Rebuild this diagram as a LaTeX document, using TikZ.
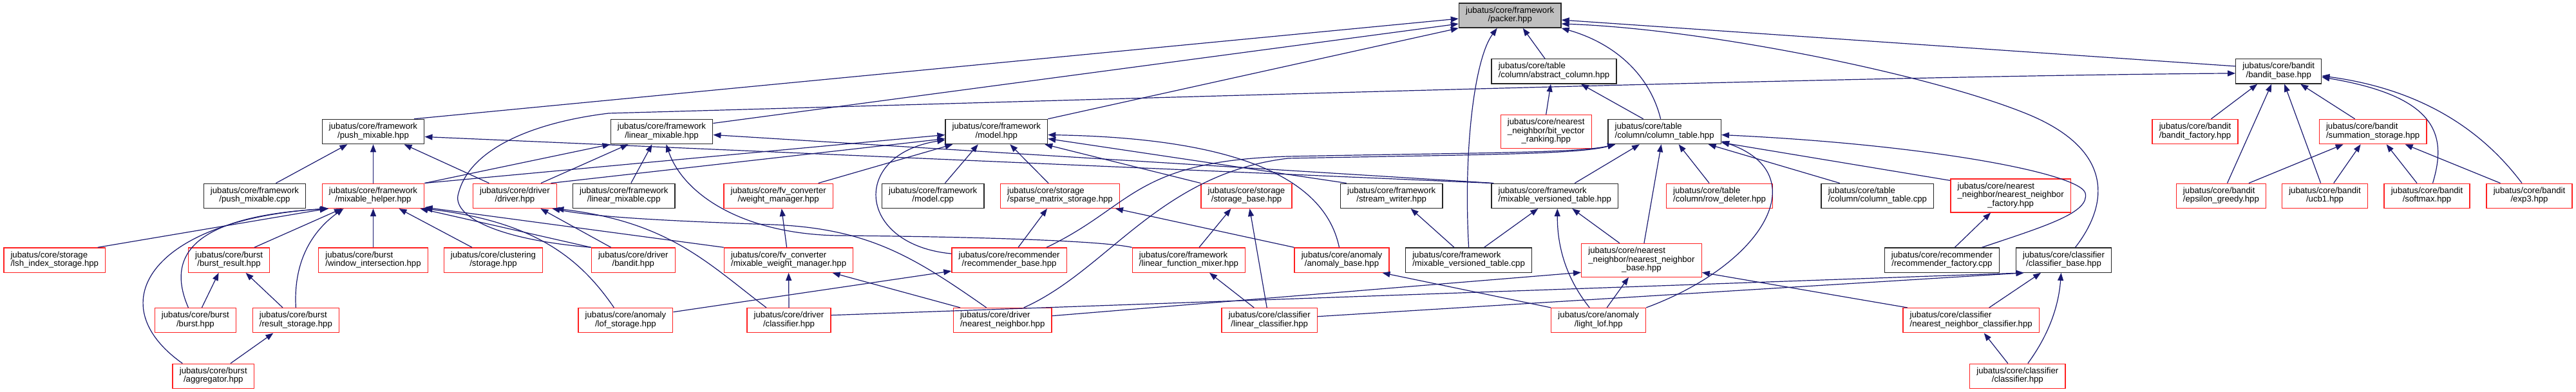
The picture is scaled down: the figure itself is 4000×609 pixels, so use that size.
\documentclass[tikz,border=0pt]{standalone}
\usepackage{fontspec}
\setmainfont{Liberation Sans}
\usetikzlibrary{arrows.meta, positioning, calc}

\definecolor{edgeblue}{HTML}{191970}
\definecolor{boxgray}{HTML}{BFBFBF}
\definecolor{boxred}{HTML}{FF2020}

% first line(s) flush left, last line centred
\newcommand{\twoline}[2]{\begin{tabular}{@{}c@{}}\multicolumn{1}{@{}l@{}}{#1}\\#2\end{tabular}}
\newcommand{\threeline}[3]{\begin{tabular}{@{}c@{}}\multicolumn{1}{@{}l@{}}{#1}\\\multicolumn{1}{@{}l@{}}{#2}\\#3\end{tabular}}

\begin{document}
\begin{tikzpicture}[
			x=1pt, y=-1pt,
			>={Triangle[length=12pt,width=9pt]},
			filebox/.style = {draw=black!85, rectangle, line width=1.3pt, fill=white, inner xsep=10.7pt, inner ysep=5.6pt, font=\fontsize{13.2}{13.2}\selectfont},
			redbox/.style  = {filebox, draw=boxred},
			rootbox/.style = {filebox, fill=boxgray},
			dep/.style     = {->, draw=edgeblue, line width=1.2pt}
			]
			
			\useasboundingbox (0,0) rectangle (4000,609);
			
			%% ── Row 1-2 ───────────────────────────────────────────────────
			\node [rootbox] (packer)     at (2344.7,24.0)  {\twoline{jubatus/core/framework}{/packer.hpp}};
			\node [filebox] (abscol)     at (2413.0,110.9) {\twoline{jubatus/core/table}{/column/abstract\_column.hpp}};
			\node [filebox] (banditbase) at (3538.2,110.9) {\twoline{jubatus/core/bandit}{/bandit\_base.hpp}};
			
			%% ── Row 3 ─────────────────────────────────────────────────────
			\node [filebox] (pushh)     at (579.5,204.5)  {\twoline{jubatus/core/framework}{/push\_mixable.hpp}};
			\node [filebox] (linh)      at (1027.5,204.5) {\twoline{jubatus/core/framework}{/linear\_mixable.hpp}};
			\node [filebox] (modelh)    at (1547.3,204.5) {\twoline{jubatus/core/framework}{/model.hpp}};
			\node [redbox]  (bitvec)    at (2400.7,204.3) {\threeline{jubatus/core/nearest}{\_neighbor/bit\_vector}{\_ranking.hpp}};
			\node [filebox] (coltab)    at (2584.6,204.5) {\twoline{jubatus/core/table}{/column/column\_table.hpp}};
			\node [redbox]  (banditfac) at (3408.5,204.5) {\twoline{jubatus/core/bandit}{/bandit\_factory.hpp}};
			\node [redbox]  (summstore) at (3684.6,204.5) {\twoline{jubatus/core/bandit}{/summation\_storage.hpp}};
			
			%% ── Row 4 ─────────────────────────────────────────────────────
			\node [filebox] (pushcpp)   at (395.5,304.3)  {\twoline{jubatus/core/framework}{/push\_mixable.cpp}};
			\node [redbox]  (mixhelper) at (579.5,304.3)  {\twoline{jubatus/core/framework}{/mixable\_helper.hpp}};
			\node [redbox]  (driverh)   at (799.4,304.3)  {\twoline{jubatus/core/driver}{/driver.hpp}};
			\node [filebox] (lincpp)    at (968.8,304.3)  {\twoline{jubatus/core/framework}{/linear\_mixable.cpp}};
			\node [redbox]  (weightmgr) at (1208.7,304.3) {\twoline{jubatus/core/fv\_converter}{/weight\_manager.hpp}};
			\node [filebox] (modelcpp)  at (1448.7,304.3) {\twoline{jubatus/core/framework}{/model.cpp}};
			\node [redbox]  (sparsest)  at (1646.0,304.3) {\twoline{jubatus/core/storage}{/sparse\_matrix\_storage.hpp}};
			\node [redbox]  (storebase) at (1935.5,304.3) {\twoline{jubatus/core/storage}{/storage\_base.hpp}};
			\node [filebox] (streamw)   at (2160.7,304.3) {\twoline{jubatus/core/framework}{/stream\_writer.hpp}};
			\node [filebox] (mvtable)   at (2414.3,304.3) {\twoline{jubatus/core/framework}{/mixable\_versioned\_table.hpp}};
			\node [redbox]  (rowdel)    at (2670.1,304.3) {\twoline{jubatus/core/table}{/column/row\_deleter.hpp}};
			\node [filebox] (coltabcpp) at (2915.4,304.3) {\twoline{jubatus/core/table}{/column/column\_table.cpp}};
			\node [redbox]  (nnfactory) at (3122.1,304.0) {\threeline{jubatus/core/nearest}{\_neighbor/nearest\_neighbor}{\_factory.hpp}};
			\node [redbox]  (epsgreedy) at (3448.9,304.3) {\twoline{jubatus/core/bandit}{/epsilon\_greedy.hpp}};
			\node [redbox]  (ucbone)    at (3610.0,304.3) {\twoline{jubatus/core/bandit}{/ucb1.hpp}};
			\node [redbox]  (softmax)   at (3768.5,304.3) {\twoline{jubatus/core/bandit}{/softmax.hpp}};
			\node [redbox]  (expthree)  at (3927.5,304.3) {\twoline{jubatus/core/bandit}{/exp3.hpp}};
			
			%% ── Row 5 ─────────────────────────────────────────────────────
			\node [redbox]  (lshstore)   at (84.8,404.1)   {\twoline{jubatus/core/storage}{/lsh\_index\_storage.hpp}};
			\node [redbox]  (burstres)   at (355.6,404.1)  {\twoline{jubatus/core/burst}{/burst\_result.hpp}};
			\node [redbox]  (windowint)  at (579.5,404.1)  {\twoline{jubatus/core/burst}{/window\_intersection.hpp}};
			\node [redbox]  (clustore)   at (766.0,404.1)  {\twoline{jubatus/core/clustering}{/storage.hpp}};
			\node [redbox]  (drvbandit)  at (983.3,404.1)  {\twoline{jubatus/core/driver}{/bandit.hpp}};
			\node [redbox]  (mixweight)  at (1224.6,404.1) {\twoline{jubatus/core/fv\_converter}{/mixable\_weight\_manager.hpp}};
			\node [redbox]  (recbase)    at (1567.1,404.1) {\twoline{jubatus/core/recommender}{/recommender\_base.hpp}};
			\node [redbox]  (linfunc)    at (1846.0,404.1) {\twoline{jubatus/core/framework}{/linear\_function\_mixer.hpp}};
			\node [redbox]  (anombase)   at (2083.5,404.1) {\twoline{jubatus/core/anomaly}{/anomaly\_base.hpp}};
			\node [filebox] (mvtcpp)     at (2280.6,404.1) {\twoline{jubatus/core/framework}{/mixable\_versioned\_table.cpp}};
			\node [redbox]  (nnbase)     at (2548.9,404.3) {\threeline{jubatus/core/nearest}{\_neighbor/nearest\_neighbor}{\_base.hpp}};
			\node [filebox] (recfactory) at (3015.4,404.1) {\twoline{jubatus/core/recommender}{/recommender\_factory.cpp}};
			\node [filebox] (clsbase)    at (3204.5,404.1) {\twoline{jubatus/core/classifier}{/classifier\_base.hpp}};
			
			%% ── Row 6-7 ───────────────────────────────────────────────────
			\node [redbox] (bursth)   at (303.4,497.7)  {\twoline{jubatus/core/burst}{/burst.hpp}};
			\node [redbox] (resstore) at (459.4,497.7)  {\twoline{jubatus/core/burst}{/result\_storage.hpp}};
			\node [redbox] (lofstore) at (971.4,497.7)  {\twoline{jubatus/core/anomaly}{/lof\_storage.hpp}};
			\node [redbox] (drvcls)   at (1225.0,497.7) {\twoline{jubatus/core/driver}{/classifier.hpp}};
			\node [redbox] (drvnn)    at (1556.7,497.7) {\twoline{jubatus/core/driver}{/nearest\_neighbor.hpp}};
			\node [redbox] (lincls)   at (1971.2,497.7) {\twoline{jubatus/core/classifier}{/linear\_classifier.hpp}};
			\node [redbox] (lightlof) at (2482.2,497.7) {\twoline{jubatus/core/anomaly}{/light\_lof.hpp}};
			\node [redbox] (nncls)    at (3060.7,497.7) {\twoline{jubatus/core/classifier}{/nearest\_neighbor\_classifier.hpp}};
			\node [redbox] (aggreg)   at (331.3,584.3)  {\twoline{jubatus/core/burst}{/aggregator.hpp}};
			\node [redbox] (clsh)     at (3132.8,584.3) {\twoline{jubatus/core/classifier}{/classifier.hpp}};
			
			%% ── Edges into packer / abstract_column ───────────────────────
			\draw [dep] ([xshift=63.5pt]pushh.north) -- ([yshift=-5pt]packer.west);
			\draw [dep] ([yshift=13pt]linh.east) -- ([yshift=-13pt]packer.west);
			\draw [dep] (modelh.north east) -- (packer.south west);
			\draw [dep] (mvtcpp.north) .. controls (2272,230) and (2290,90) .. ([xshift=-20pt]packer.south);
			\draw [dep] ([xshift=-14pt]abscol.north) -- ([xshift=20pt]packer.south);
			\draw [dep] ([xshift=-6pt]coltab.north) .. controls (2560,110) and (2500,65) .. (packer.south east);
			\draw [dep] ([yshift=8pt]banditbase.west) -- ([yshift=-7pt]packer.east);
			\draw [dep] ([xshift=18pt]clsbase.north) .. controls (3280,310) and (3275,230) .. (3150,178)
			.. controls (3000,116) and (2650,45) .. ([yshift=-13pt]packer.east);
			\draw [dep] (bitvec.north) -- ([xshift=-5pt]abscol.south);
			\draw [dep] ([xshift=-33pt]coltab.north) -- ([xshift=42pt]abscol.south);
			
			%% ── Bandit ────────────────────────────────────────────────────
			\draw [dep] (drvbandit.north west) .. controls (770,372) and (700,335) .. (712,300)
			.. controls (730,230) and (830,190) .. (945,176)
			.. controls (1800,152) and (2900,118) .. ([yshift=-3pt]banditbase.west);
			\draw [dep] ([xshift=25pt]banditfac.north) -- ([xshift=-33pt]banditbase.south);
			\draw [dep] ([xshift=-28pt]summstore.north) -- ([xshift=34pt]banditbase.south);
			\draw [dep] ([xshift=9.6pt]epsgreedy.north) -- ([xshift=-11pt]banditbase.south);
			\draw [dep] ([xshift=-6.4pt]ucbone.north) -- ([xshift=9pt]banditbase.south);
			\draw [dep] ([xshift=9pt]softmax.north) .. controls (3800,210) and (3785,150) .. ([yshift=-9pt]banditbase.east);
			\draw [dep] ([xshift=-11.5pt]expthree.north) .. controls (3860,210) and (3770,140) .. ([yshift=-7pt]banditbase.east);
			\draw [dep] ([xshift=43pt]epsgreedy.north) -- ([xshift=-46pt]summstore.south);
			\draw [dep] ([xshift=13.7pt]ucbone.north) -- ([xshift=-19pt]summstore.south);
			\draw [dep] ([xshift=-15.5pt]softmax.north) -- ([xshift=21pt]summstore.south);
			\draw [dep] ([xshift=-45pt]expthree.north) -- ([xshift=50pt]summstore.south);
			
			%% ── push_mixable / linear_mixable ─────────────────────────────
			\draw [dep] ([xshift=33pt]pushcpp.north) -- ([xshift=-40pt]pushh.south);
			\draw [dep] (mixhelper.north) -- (pushh.south);
			\draw [dep] ([xshift=-40pt]driverh.north) -- ([xshift=48pt]pushh.south);
			\draw [dep] (mvtable.north west) -- ([yshift=-8pt]pushh.east);
			\draw [dep] (mixhelper.north east) -- (linh.south west);
			\draw [dep] ([xshift=40.6pt]driverh.north) -- ([xshift=-52pt]linh.south);
			\draw [dep] ([xshift=11pt]lincpp.north) -- ([xshift=-15pt]linh.south);
			\draw [dep] (linfunc.north west) .. controls (1700,372) and (1450,367) .. (1300,366)
			.. controls (1150,363) and (1060,300) .. ([xshift=7pt]linh.south);
			\draw [dep] ([xshift=4pt]mvtable.north west) -- ([yshift=-5pt]linh.east);
			
			%% ── model ─────────────────────────────────────────────────────
			\draw [dep] (mixhelper.north east) -- ([yshift=-5pt]modelh.west);
			\draw [dep] ([xshift=56pt]driverh.north) -- ([yshift=-11pt]modelh.west);
			\draw [dep] ([xshift=62pt]weightmgr.north) -- ([xshift=-68pt]modelh.south);
			\draw [dep] ([yshift=10pt]recbase.west) .. controls (1330,380) and (1320,240) .. ([yshift=-13pt]modelh.west);
			\draw [dep] ([xshift=18.7pt]modelcpp.north) -- ([xshift=-28.5pt]modelh.south);
			\draw [dep] ([xshift=-18pt]sparsest.north) -- ([xshift=21pt]modelh.south);
			\draw [dep] (storebase.north west) -- ([xshift=75pt]modelh.south);
			\draw [dep] ([xshift=-4pt]anombase.north) .. controls (2060,290) and (1950,215) .. ([yshift=-5pt]modelh.east);
			\draw [dep] ([xshift=10pt]streamw.north west) -- ([yshift=-11pt]modelh.east);
			
			%% ── mixable_helper / driver ───────────────────────────────────
			\draw [dep] ([xshift=-3pt]mixweight.north) -- ([xshift=5pt]weightmgr.south);
			\draw [dep] ([xshift=67pt]lshstore.north) -- ([xshift=-71pt]mixhelper.south);
			\draw [dep] ([xshift=39.4pt]burstres.north) -- ([xshift=-48.5pt]mixhelper.south);
			\draw [dep] (windowint.north) -- (mixhelper.south);
			\draw [dep] ([xshift=-33pt]clustore.north) -- ([xshift=40pt]mixhelper.south);
			\draw [dep] ([xshift=-11pt]bursth.north) .. controls (250,380) and (330,335) .. ([xshift=-70pt]mixhelper.south);
			\draw [dep] ([xshift=-48pt]aggreg.north) .. controls (150,470) and (240,340) .. ([xshift=-69pt]mixhelper.south);
			\draw [dep] (resstore.north) .. controls (455,400) and (490,355) .. ([xshift=-46pt]mixhelper.south);
			\draw [dep] (drvbandit.north west) -- ([xshift=73pt]mixhelper.south);
			\draw [dep] ([xshift=-18pt]lofstore.north) .. controls (900,400) and (830,345) .. (mixhelper.south east);
			\draw [dep] (mixweight.north west) -- ([yshift=2pt]mixhelper.south east);
			\draw [dep] ([xshift=-34.6pt]drvbandit.north) -- ([xshift=40pt]driverh.south);
			\draw [dep] ([xshift=-25pt]drvnn.north) .. controls (1420,400) and (1350,355) .. (1200,349)
			.. controls (1000,342) and (920,336) .. ([xshift=58pt]driverh.south);
			\draw [dep] ([xshift=-35pt]drvcls.north) .. controls (1100,410) and (1040,345) .. ([xshift=64pt]driverh.south);
			
			%% ── fv_converter / recommender / storage ──────────────────────
			\draw [dep] (drvcls.north) -- (mixweight.south);
			\draw [dep] ([xshift=-65.7pt]drvnn.north) -- ([xshift=68pt]mixweight.south);
			\draw [dep] ([yshift=13pt]lofstore.east) -- ([yshift=-17pt]recbase.west);
			\draw [dep] ([xshift=14pt]recbase.north) -- ([xshift=-20pt]sparsest.south);
			\draw [dep] (anombase.north west) -- ([xshift=86pt]sparsest.south);
			\draw [dep] ([xshift=16pt]linfunc.north) -- ([xshift=-24pt]storebase.south);
			\draw [dep] ([xshift=-4pt]lincls.north) -- ([xshift=5pt]storebase.south);
			\draw [dep] ([xshift=-24pt]lincls.north) -- ([xshift=32pt]linfunc.south);
			
			%% ── column_table ──────────────────────────────────────────────
			\draw [dep] ([xshift=58pt]recbase.north) .. controls (1760,320) and (1760,250) .. (2000,243)
			.. controls (2300,237) and (2450,238) .. ([xshift=12pt]coltab.south west);
			\draw [dep] ([xshift=33pt]drvnn.north) .. controls (1720,420) and (1800,270) .. (2000,246)
			.. controls (2300,240) and (2450,240) .. ([xshift=12pt]coltab.south west);
			\draw [dep] ([xshift=31pt]mvtable.north) -- ([xshift=-38.6pt]coltab.south);
			\draw [dep] ([xshift=4pt]nnbase.north) -- ([xshift=-5pt]coltab.south);
			\draw [dep] ([xshift=-16pt]rowdel.north) -- ([xshift=22pt]coltab.south);
			\draw [dep] ([xshift=-58.7pt]coltabcpp.north) -- ([xshift=68pt]coltab.south);
			\draw [dep] ([yshift=23.6pt]nnfactory.west) -- ([yshift=-17pt]coltab.east);
			\draw [dep] ([xshift=62pt]recfactory.north) .. controls (3180,350) and (3245,330) .. (3238,300)
			.. controls (3230,270) and (3000,225) .. ([yshift=-5pt]coltab.east);
			\draw [dep] ([xshift=74pt]lightlof.north) .. controls (2740,410) and (2820,270) .. ([yshift=-15pt]coltab.east);
			\draw [dep] ([xshift=20pt]recfactory.north) -- ([xshift=-31pt]nnfactory.south);
			
			%% ── mixable_versioned_table / nearest_neighbor / anomaly ──────
			\draw [dep] ([xshift=-22.6pt]mvtcpp.north) -- ([xshift=30pt]streamw.south);
			\draw [dep] ([xshift=24pt]mvtcpp.north) -- ([xshift=-26pt]mvtable.south);
			\draw [dep] ([xshift=-34pt]nnbase.north) -- ([xshift=27pt]mvtable.south);
			\draw [dep] ([xshift=-14pt]lightlof.north) .. controls (2430,430) and (2418,380) .. ([xshift=4pt]mvtable.south);
			\draw [dep] ([yshift=7pt]drvnn.east) -- ([yshift=-19pt]nnbase.west);
			\draw [dep] ([xshift=13pt]lightlof.north) -- ([xshift=-20pt]nnbase.south);
			\draw [dep] ([xshift=-99pt]nncls.north) -- ([yshift=-19pt]nnbase.east);
			\draw [dep] (lightlof.north west) -- ([xshift=63pt]anombase.south);
			
			%% ── classifier ────────────────────────────────────────────────
			\draw [dep] ([yshift=8pt]drvcls.east) -- ([xshift=-62pt]clsbase.south);
			\draw [dep] ([yshift=6pt]lincls.east) -- ([xshift=-62pt]clsbase.south);
			\draw [dep] ([xshift=28pt]nncls.north) -- ([xshift=-35.5pt]clsbase.south);
			\draw [dep] ([xshift=16pt]clsh.north) .. controls (3185,515) and (3197,470) .. ([xshift=-4pt]clsbase.south);
			\draw [dep] ([xshift=-15pt]clsh.north) -- ([xshift=20pt]nncls.south);
			
			%% ── burst ─────────────────────────────────────────────────────
			\draw [dep] ([xshift=10pt]bursth.north) -- ([xshift=-16pt]burstres.south);
			\draw [dep] ([xshift=-20.4pt]resstore.north) -- ([xshift=26pt]burstres.south);
			\draw [dep] ([xshift=26.7pt]aggreg.north) -- ([xshift=-35pt]resstore.south);
			
		\end{tikzpicture}
\end{document}
